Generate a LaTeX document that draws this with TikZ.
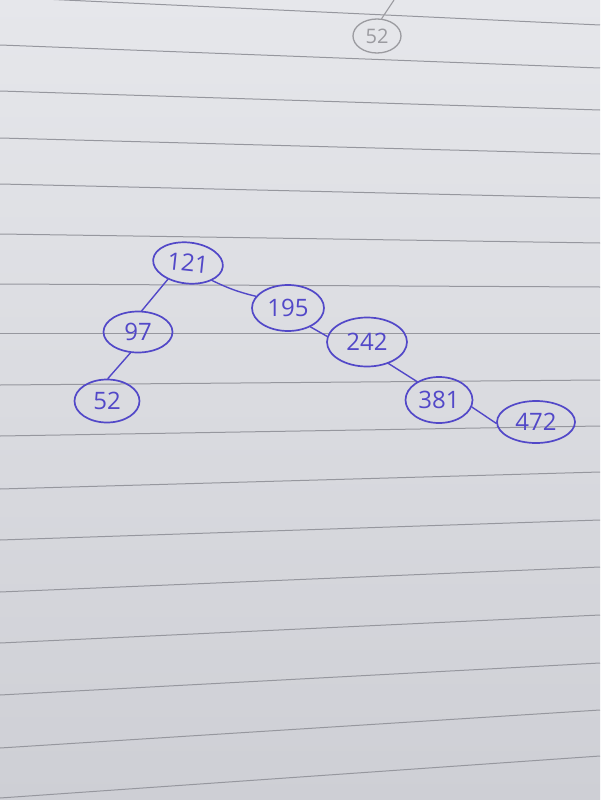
\documentclass[tikz,border=0pt]{standalone}
\usepackage{fontspec}
\newfontfamily\hand{Open Sans}
\usetikzlibrary{shapes.geometric}
\definecolor{ink}{RGB}{82,72,200}
\definecolor{rule}{RGB}{150,151,158}
\definecolor{ghostink}{RGB}{155,155,160}
\definecolor{papertop}{RGB}{230,231,235}
\definecolor{paperbot}{RGB}{206,207,213}
\tikzset{
  treenode/.style={ellipse, draw=ink, line width=1.7pt, text=ink, inner sep=0pt, font=\hand\fontsize{24}{24}\selectfont},
  ghostnode/.style={ellipse, draw=ghostink, line width=1.3pt, text=ghostink, inner sep=0pt, font=\hand\fontsize{20}{20}\selectfont},
  edge/.style={draw=ink, line width=1.4pt, line cap=round},
  ghostedge/.style={draw=ghostink, line width=1.1pt, line cap=round},
  ruleline/.style={draw=rule, line width=1pt}
}
\begin{document}
\begin{tikzpicture}[x=1pt,y=-1pt]
\useasboundingbox (0,0) rectangle (600,800);
\shade[top color=papertop, bottom color=paperbot] (0,0) rectangle (600,800);
\foreach \l/\r in {-3/25,45/68,91/110,138/154,184/198,234/243,284/287,333/333,385/380,436/426,489/472,540/520,592/567,643/615,695/663,748/710,798/756}
  \draw[ruleline] (0,\l) -- (600,\r);
% ghost from the other side
\node[ghostnode, minimum width=48pt, minimum height=34pt] (ghost) at (377,36) {52};
\coordinate (ghosttop) at (394,0);
\draw[ghostedge] (ghosttop) -- (ghost.75);
% tree
\node[treenode, minimum width=70pt, minimum height=41pt, rotate=-6] (n121) at (188,263) {121};
\node[treenode, minimum width=69pt, minimum height=41pt] (n97) at (138,332) {97};
\node[treenode, minimum width=65pt, minimum height=43pt] (n52) at (107,401) {52};
\node[treenode, minimum width=72pt, minimum height=46pt] (n195) at (288,308) {195};
\node[treenode, minimum width=80pt, minimum height=49pt] (n242) at (367,342) {242};
\node[treenode, minimum width=67pt, minimum height=46pt] (n381) at (439,400) {381};
\node[treenode, minimum width=78pt, minimum height=42pt] (n472) at (536,422) {472};
\draw[edge] (n121.225) -- (n97.80);
\draw[edge] (n97.250) -- (n52.88);
\draw[edge] (n121.330) to[bend right=6] (n195.160);
\draw[edge] (n195.320) -- (n242.172);
\draw[edge] (n242.315) -- (n381.140);
\draw[edge] (n381.348) -- (n472.182);
\end{tikzpicture}
\end{document}
